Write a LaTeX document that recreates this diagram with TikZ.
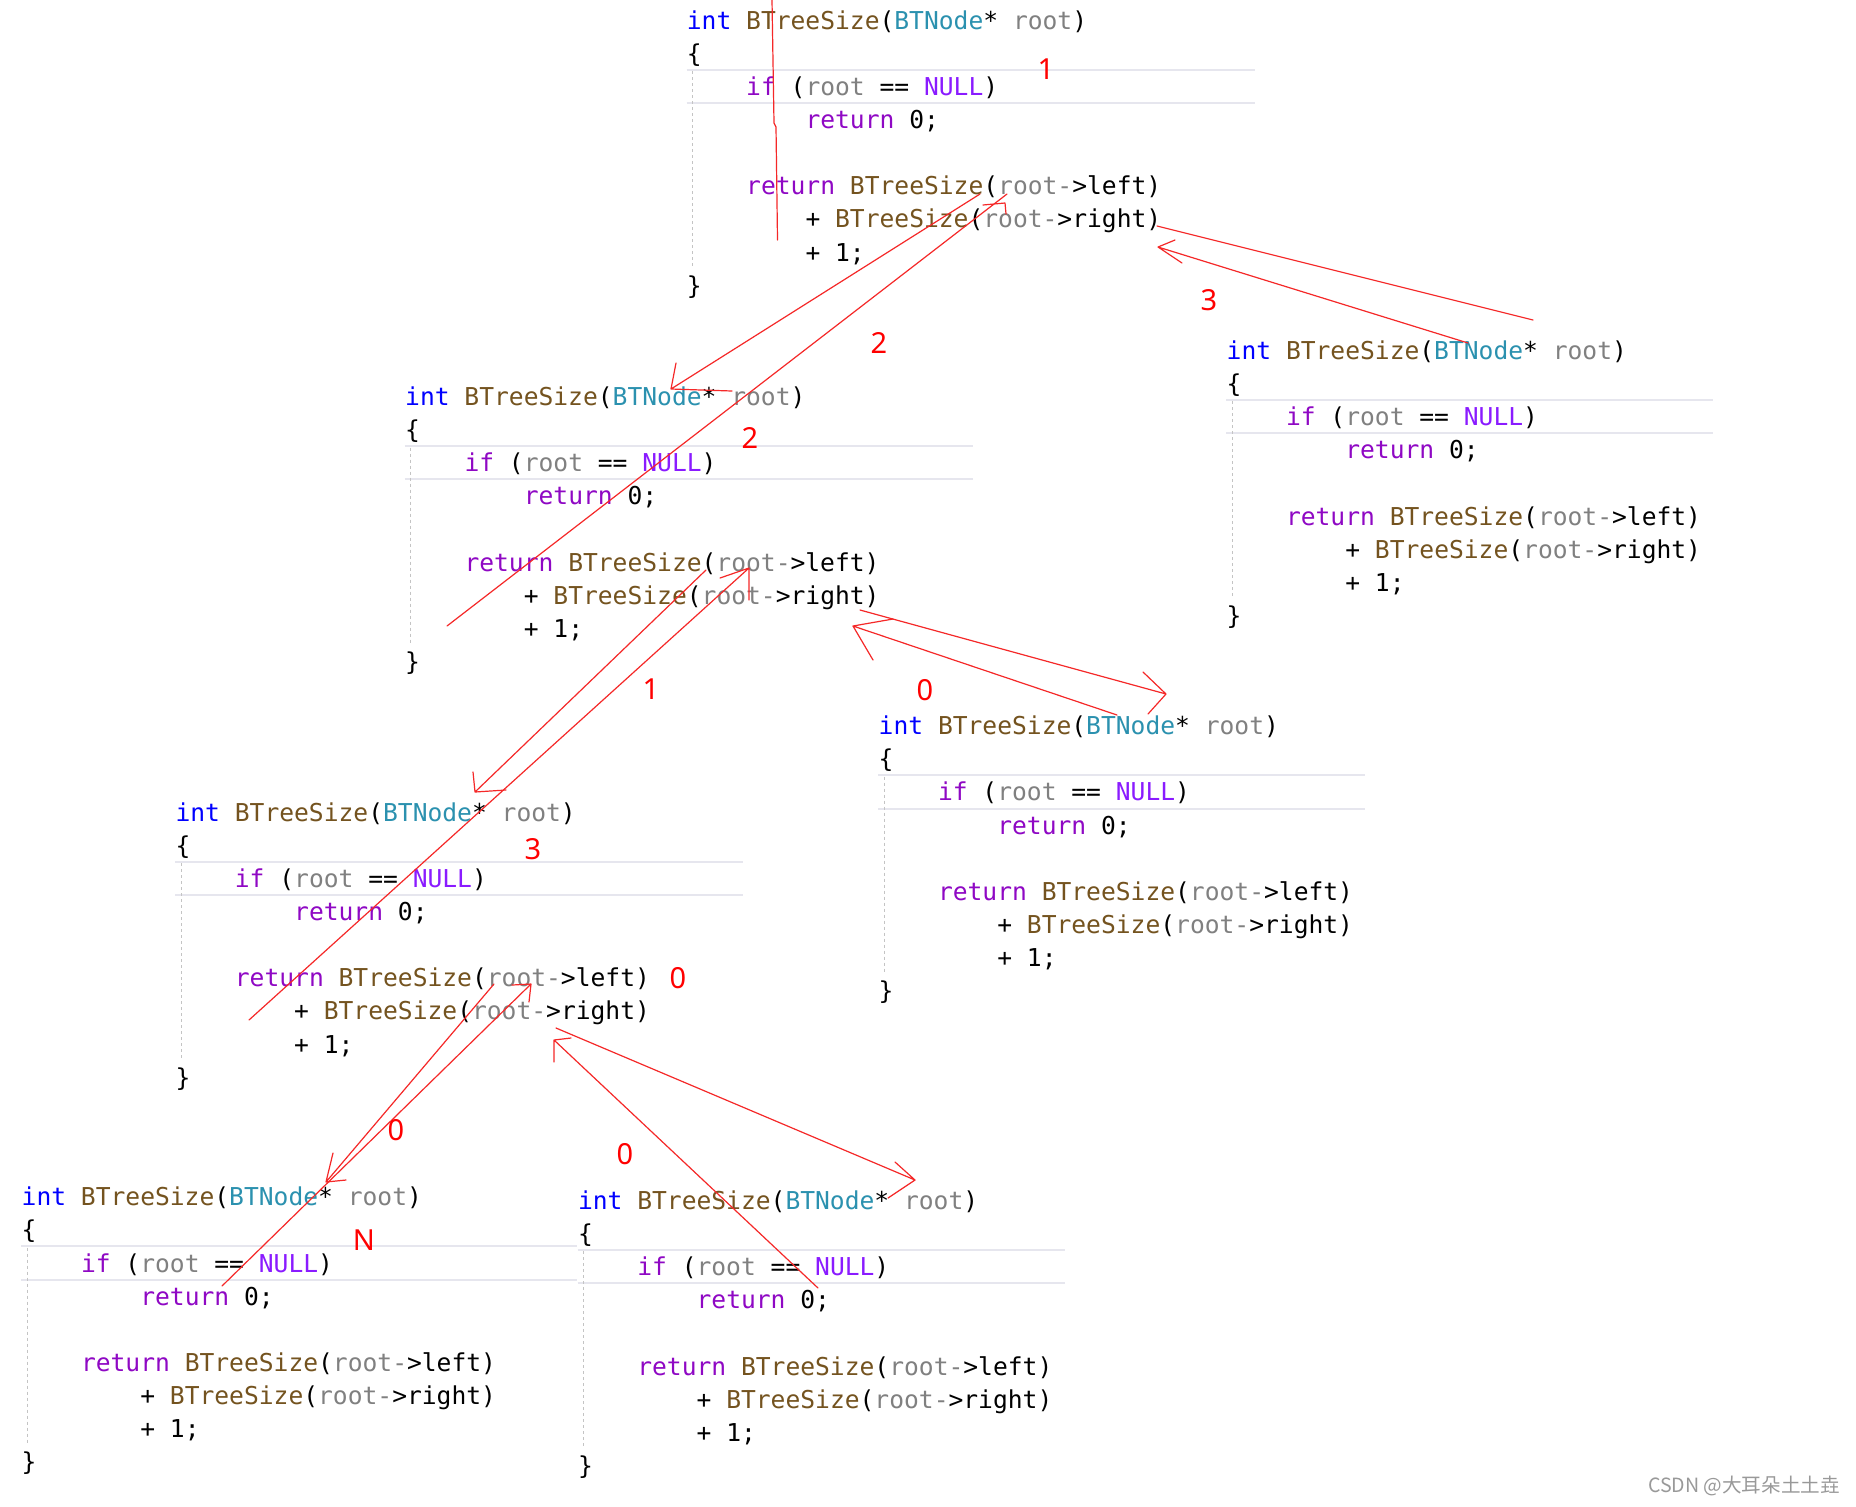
\documentclass[tikz,border=0pt]{standalone}
\usepackage{fontspec}
\setmainfont{DejaVu Sans}
\newfontfamily\codefont{DejaVu Sans Mono}
\newfontfamily\inkfont{Noto Sans}
\newfontfamily\markfont{Noto Sans CJK SC}
\usetikzlibrary{calc}

\definecolor{vskw}{HTML}{0000FF}
\definecolor{vsfn}{HTML}{74531F}
\definecolor{vsty}{HTML}{2B91AF}
\definecolor{vspa}{HTML}{808080}
\definecolor{vsct}{HTML}{8F08C4}
\definecolor{vsmc}{HTML}{8A1BFF}
\definecolor{ifbarcol}{HTML}{E6E6EE}
\definecolor{guidecol}{HTML}{C4C4C4}
\definecolor{penred}{HTML}{F52828}

\newcommand{\ckw}[1]{\textcolor{vskw}{#1}}
\newcommand{\cfn}[1]{\textcolor{vsfn}{#1}}
\newcommand{\cty}[1]{\textcolor{vsty}{#1}}
\newcommand{\cpa}[1]{\textcolor{vspa}{#1}}
\newcommand{\cct}[1]{\textcolor{vsct}{#1}}
\newcommand{\cmc}[1]{\textcolor{vsmc}{#1}}

% one BTreeSize frame: [bar length]{name}{x}{y of first line}
\newcommand{\bts}[4][568]{%
\draw[ifbar] (#3,#4+49.7)--++(#1,0) (#3,#4+82.9)--++(#1,0);
\draw[guide] (#3+6,#4+51)--(#3+6,#4+247);
\node[codeln] (#2-1) at (#3,#4+9) {\ckw{int} \cfn{BTreeSize}(\cty{BTNode}* \cpa{root})};
\node[codeln] (#2-2) at (#3,#4+42.1) {\{};
\node[codeln] (#2-3) at (#3+59.3,#4+75.3) {\cct{if} (\cpa{root} == \cmc{NULL})};
\node[codeln] (#2-4) at (#3+118.6,#4+108.4) {\cct{return} 0;};
\node[codeln] (#2-6) at (#3+59.3,#4+174.7) {\cct{return} \cfn{BTreeSize}(\cpa{root-}>left)};
\node[codeln] (#2-7) at (#3+118.6,#4+207.8) {+ \cfn{BTreeSize}(\cpa{root-}>right)};
\node[codeln] (#2-8) at (#3+118.6,#4+241) {+ 1;};
\node[codeln] (#2-9) at (#3,#4+274.1) {\}};
}

\begin{document}
\begin{tikzpicture}[x=0.5pt,y=-0.5pt,
  codeln/.style={anchor=base west,inner sep=0pt,font=\codefont\fontsize{12.31pt}{15pt}\selectfont},
  ifbar/.style={draw=ifbarcol,line width=1pt},
  guide/.style={draw=guidecol,line width=0.5pt,dash pattern=on 1.5pt off 1.5pt},
  pen/.style={draw=penred,line width=0.6pt,line cap=round,line join=round},
  cnt/.style={text=red,inner sep=0pt,font=\inkfont\fontsize{14.5pt}{16pt}\selectfont}]
\fill[white] (0,0) rectangle (1856,1506);
\useasboundingbox (0,0) rectangle (1856,1506);

\foreach \nm/\x/\y/\w in {n/686.5/20.1/568, nL/404.8/396.5/568, nR/1226.3/350.4/487,
  nLR/878.3/725.6/487, nLL/175.2/812/568, nLLL/21.3/1196.7/556, nLLR/577.6/1200.3/487}
  {\bts[\w]{\nm}{\x}{\y}}

\coordinate (nL-go-a) at (980,194); \coordinate (nL-go-b) at (671,389);
\coordinate (nL-back-a) at (447,626); \coordinate (nL-back-b) at (1007,194);
\coordinate (nR-go-a) at (1157,226); \coordinate (nR-go-b) at (1533,320);
\coordinate (nR-back-a) at (1468,343); \coordinate (nR-back-b) at (1158,247);
\coordinate (nLL-go-a) at (706,570); \coordinate (nLL-go-b) at (475,792);
\coordinate (nLL-back-a) at (249,1020); \coordinate (nLL-back-b) at (749,568);
\coordinate (nLR-go-a) at (860,610); \coordinate (nLR-go-b) at (1166,694);
\coordinate (nLR-back-a) at (1117,715); \coordinate (nLR-back-b) at (853,626);
\coordinate (nLLL-go-a) at (494,984); \coordinate (nLLL-go-b) at (326,1182);
\coordinate (nLLL-back-a) at (222,1286); \coordinate (nLLL-back-b) at (531,984);
\coordinate (nLLR-go-a) at (556,1028); \coordinate (nLLR-go-b) at (915,1180);
\coordinate (nLLR-back-a) at (818,1288); \coordinate (nLLR-back-b) at (554,1040);

% the pen strokes
\draw[pen] (772,0)--(774,123)--(776,127)--(777.5,240);
\draw[pen] (nL-go-a)--(nL-go-b) +(5,-26)--(nL-go-b)--+(61,2);
\draw[pen] (nL-back-a)--(nL-back-b) +(-24,11)--+(-2,9)--+(-1,20);
\draw[pen] (nR-go-a)--(nR-go-b);
\draw[pen] (nR-back-a)--(nR-back-b) +(17,-7)--(nR-back-b)--+(24,16);
\draw[pen] (nLL-go-a)--(nLL-go-b) +(-2,-20)--(nLL-go-b)--+(31,-2);
\draw[pen] (nLL-back-a)--(nLL-back-b) +(-29,10)--(nLL-back-b)--+(0,32);
\draw[pen] (nLR-go-a)--(nLR-go-b) +(-23,-22)--(nLR-go-b)--+(-18,20);
\draw[pen] (nLR-back-a)--(nLR-back-b) +(40,-7)--(nLR-back-b)--+(20,34);
\draw[pen] (nLLL-go-a)--(nLLL-go-b) +(7,-29)--(nLLL-go-b)--+(20,-2);
\draw[pen] (nLLL-back-a)--(nLLL-back-b) +(-19,1)--(nLLL-back-b)--+(-2,18);
\draw[pen] (nLLR-go-a)--(nLLR-go-b) +(-20,-18)--(nLLR-go-b)--+(-27,18);
\draw[pen] (nLLR-back-a)--(nLLR-back-b) +(17,-2)--(nLLR-back-b)--+(0,22);

\foreach \k/\x/\y/\t in {a/1046/69/1, b/879/343/2, c/750/438/2, d/1209/300/3, e/651/689/1, f/925/690/0,
  g/533/849/3, h/678/978/0, i/396/1130/0, j/364/1240/N, k/625/1154/0}
  {\node[cnt] (cnt-\k) at (\x,\y) {\t};}

\node[text=gray!80,inner sep=0pt,font=\markfont\fontsize{9.8pt}{11pt}\selectfont] (mark) at (1744,1486) {CSDN @大耳朵土土垚};
\end{tikzpicture}
\end{document}
